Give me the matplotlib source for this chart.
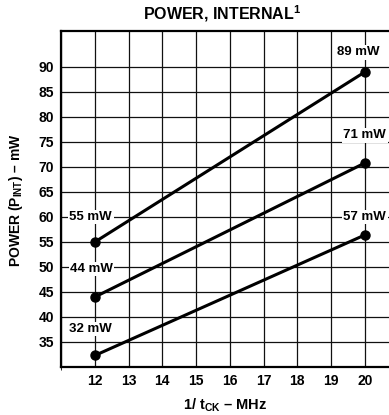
import matplotlib.pyplot as plt

freq = [12, 20]
p_high = [55, 89]
p_mid = [44, 70.8]
p_low = [32.3, 56.4]

labels = ["55 mW", "89 mW", "44 mW", "71 mW", "32 mW", "57 mW"]
label_x = [11.88, 19.82, 11.9, 20.0, 11.88, 20.0]
label_y = [60, 92.9, 49.6, 76.3, 37.6, 60]

plt.rcParams['font.family'] = ['Liberation Sans', 'DejaVu Sans']
plt.rcParams['font.weight'] = 'bold'
plt.rcParams['mathtext.fontset'] = 'custom'
plt.rcParams['mathtext.rm'] = 'Liberation Sans:bold'
plt.rcParams['mathtext.bf'] = 'Liberation Sans:bold'
plt.rcParams['mathtext.default'] = 'bf'

fig = plt.figure(figsize=(3.89, 4.15), dpi=100)
ax = fig.add_axes([0.157, 0.1157, 0.8676, 0.8096])

ax.set_xlim(11, 21)
ax.set_ylim(30, 97.2)
ax.set_xticks(range(11, 22), minor=True)
ax.set_xticks(range(12, 21))
ax.set_yticks(range(35, 95, 5))
ax.grid(True, which='both', color='#111111', lw=0.9)
ax.set_axisbelow(True)
ax.tick_params(length=0, labelsize=10, pad=5)
for lab in ax.get_xticklabels() + ax.get_yticklabels():
    lab.set_fontweight('bold')
for s in ax.spines.values():
    s.set_linewidth(1.6)

for ys in (p_high, p_mid, p_low):
    ax.plot(freq, ys, color='black', lw=2.2, marker='o', ms=6.5, zorder=3)

for t, x, y in zip(labels, label_x, label_y):
    ax.text(x, y, t, ha='center', va='center', fontsize=9.5, fontweight='bold',
            bbox=dict(facecolor='white', edgecolor='none', pad=1.0), zorder=4)

fig.text(0.57, 0.968, r'POWER, INTERNAL$^{1}$', ha='center', va='center',
         fontsize=11.5, fontweight='bold')
ax.set_xlabel(r'1/ t$_{CK}$ – MHz', fontsize=10.5, fontweight='bold')
ax.set_ylabel(r'POWER (P$_{INT}$) – mW', fontsize=10, fontweight='bold')
ax.xaxis.set_label_coords((225 - 61) / 337.5, -0.088)
ax.yaxis.set_label_coords(-0.107, 0.497)

fig.savefig('out.png', dpi=100)
